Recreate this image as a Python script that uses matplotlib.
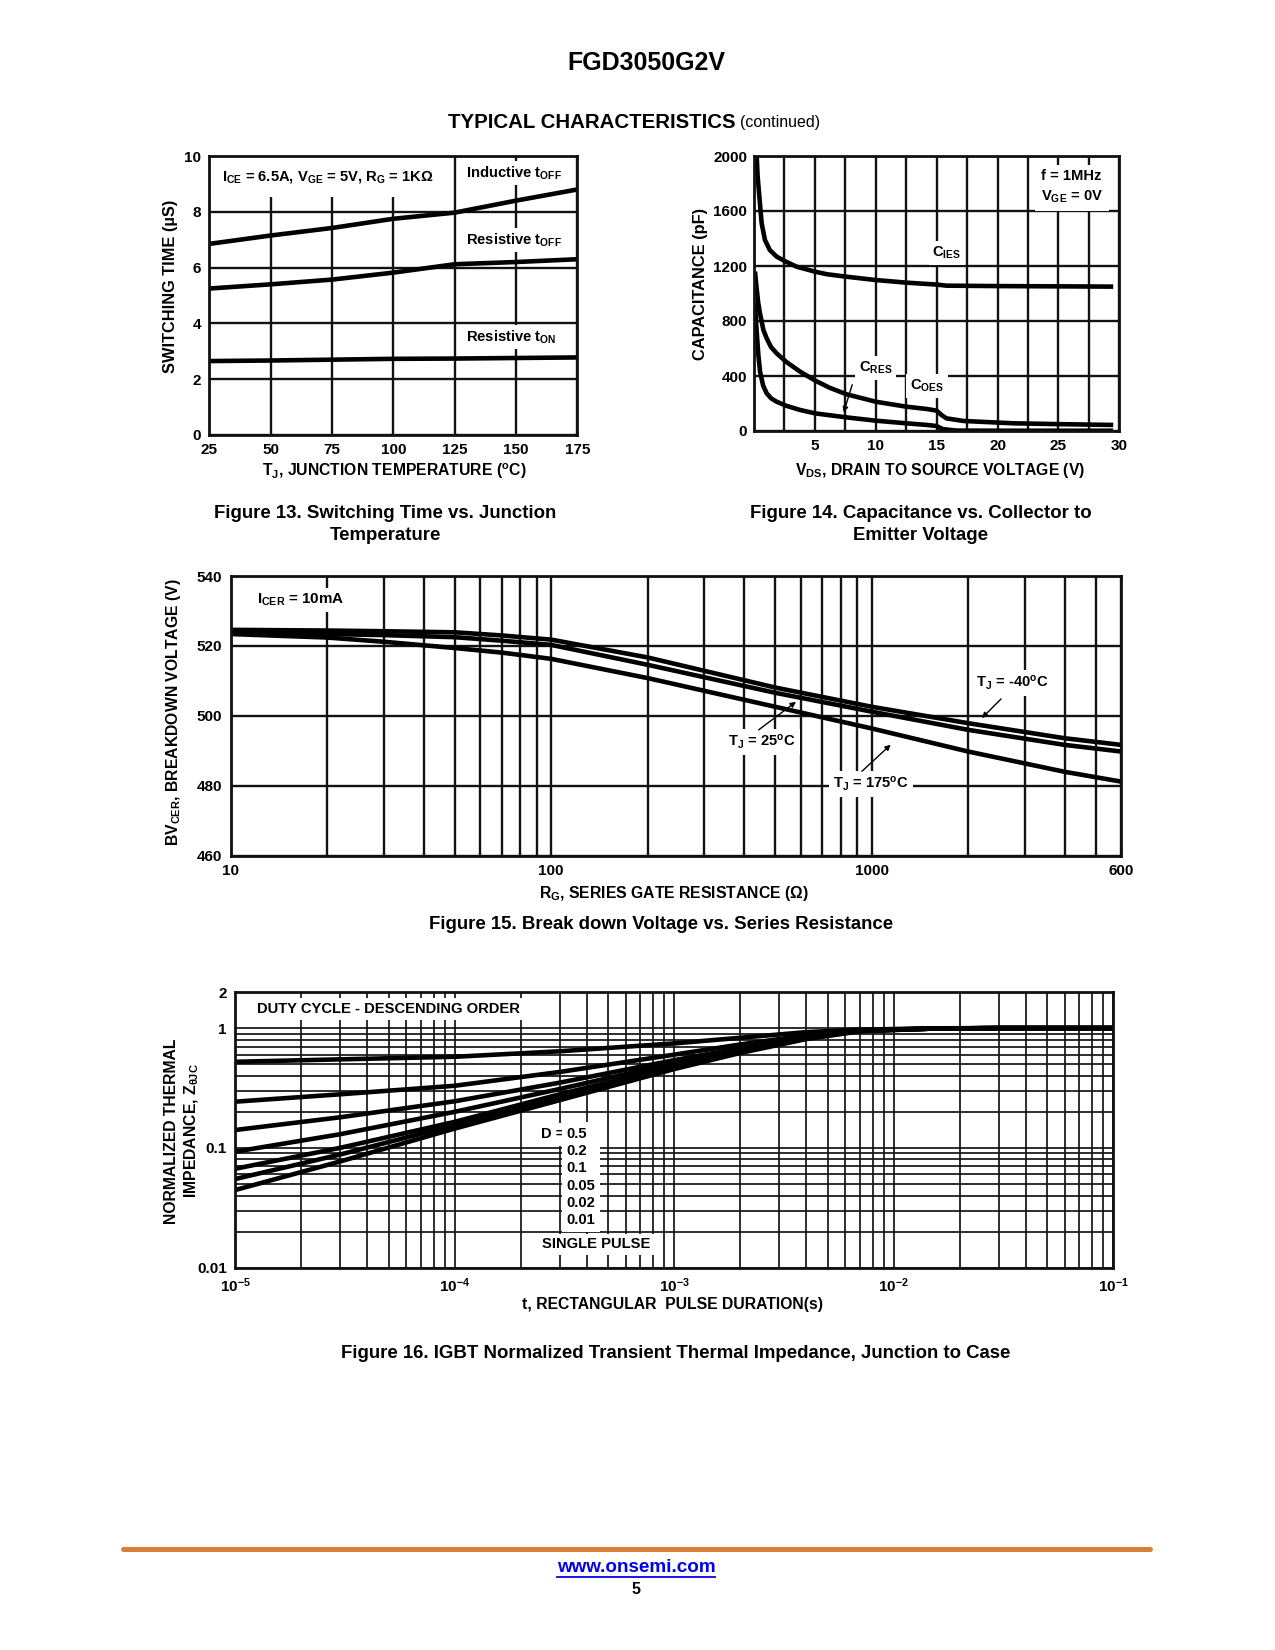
import numpy as np
import matplotlib
matplotlib.use('Agg')
import matplotlib.pyplot as plt
from matplotlib.ticker import FixedLocator, FixedFormatter, MultipleLocator, LogLocator, NullFormatter
from matplotlib.lines import Line2D

plt.rcParams['font.family'] = ['Liberation Sans', 'DejaVu Sans']
plt.rcParams['font.weight'] = 'bold'
plt.rcParams['mathtext.fontset'] = 'custom'
plt.rcParams['mathtext.rm'] = 'Liberation Sans:bold'
plt.rcParams['mathtext.bf'] = 'Liberation Sans:bold'
plt.rcParams['mathtext.it'] = 'Liberation Sans:bold'
plt.rcParams['mathtext.default'] = 'rm'

# ---------------- Figure 13 data ----------------
tj_temp = [25, 50, 75, 100, 125, 150, 175]
ind_toff = [6.85, 7.15, 7.42, 7.75, 7.97, 8.40, 8.80]
res_toff = [5.25, 5.40, 5.57, 5.82, 6.12, 6.20, 6.30]
res_ton = [2.65, 2.67, 2.70, 2.73, 2.74, 2.76, 2.78]
f13_xticks = [25, 50, 75, 100, 125, 150, 175]
f13_yticks = [0, 2, 4, 6, 8, 10]

# ---------------- Figure 14 data ----------------
cies_v = [0.22, 0.3, 0.44, 0.63, 0.9, 1.3, 1.86, 2.63, 3.5, 5.0, 6.0, 7.6, 10, 12.5, 15, 15.8, 20, 25, 29.5]
cies_c = [2000, 1850, 1704, 1510, 1389, 1316, 1268, 1231, 1195, 1159, 1140, 1122, 1098, 1079, 1065, 1057, 1054, 1052, 1050]
coes_v = [0.08, 0.2, 0.35, 0.49, 0.77, 1.04, 1.4, 1.86, 2.63, 3.78, 5.04, 6.2, 7.6, 10, 12.5, 14.2, 15.0, 15.4, 15.8, 17.2, 21.3, 25, 29.5]
coes_c = [1160, 1050, 930, 856, 735, 674, 610, 565, 504, 432, 366, 315, 267, 213, 177, 160, 148, 116, 92, 73, 56, 50, 44]
cres_v = [0.08, 0.2, 0.35, 0.5, 0.75, 1.04, 1.4, 1.86, 2.63, 3.78, 5.04, 7.6, 10, 12.5, 14.2, 15.0, 15.5, 16.6, 20, 29.5]
cres_c = [930, 750, 560, 430, 330, 274, 238, 213, 184, 153, 128, 99, 75, 56, 44, 36, 14, 3, 2, 2]
f14_xticks = [5, 10, 15, 20, 25, 30]
f14_yticks = [0, 400, 800, 1200, 1600, 2000]

# ---------------- Figure 15 data ----------------
rg_ohm = [10, 20, 30, 50, 70, 100, 200, 500, 1000, 2000, 4000, 6000]
bv_m40 = [524.6, 524.4, 524.2, 523.9, 523.0, 521.8, 516.7, 508.1, 502.6, 497.9, 493.6, 491.7]
bv_25 = [524.0, 523.4, 523.1, 522.5, 521.5, 520.3, 514.6, 506.6, 501.2, 496.0, 491.7, 489.8]
bv_175 = [523.4, 522.4, 521.2, 519.4, 518.1, 516.3, 510.8, 502.6, 496.4, 489.8, 484.0, 481.2]
f15_xticks = [10, 100, 1000, 6000]
f15_xlabels = ['10', '100', '1000', '600']
f15_yticks = [460, 480, 500, 520, 540]

# ---------------- Figure 16 data ----------------
pulse_t = [1e-5, 3e-5, 1e-4, 3e-4, 1e-3, 2e-3, 4e-3, 7e-3, 1.5e-2, 3e-2, 1e-1]
z_d050 = [0.523, 0.548, 0.576, 0.640, 0.745, 0.830, 0.925, 0.970, 0.995, 1.0, 1.0]
z_d020 = [0.243, 0.280, 0.330, 0.430, 0.600, 0.730, 0.870, 0.960, 0.990, 1.0, 1.0]
z_d010 = [0.141, 0.180, 0.245, 0.350, 0.540, 0.680, 0.850, 0.955, 0.990, 1.0, 1.0]
z_d005 = [0.093, 0.130, 0.200, 0.310, 0.510, 0.660, 0.840, 0.950, 0.990, 1.0, 1.0]
z_d002 = [0.067, 0.100, 0.165, 0.280, 0.480, 0.640, 0.830, 0.950, 0.990, 1.0, 1.0]
z_d001 = [0.055, 0.088, 0.155, 0.265, 0.470, 0.630, 0.820, 0.945, 0.990, 1.0, 1.0]
z_single = [0.0445, 0.077, 0.145, 0.250, 0.455, 0.620, 0.810, 0.940, 0.990, 1.0, 1.0]
duty_labels = ['0.5', '0.2', '0.1', '0.05', '0.02', '0.01']
f16_xticks = [1e-5, 1e-4, 1e-3, 1e-2, 1e-1]
f16_xlabels = ['10$^{-5}$', '10$^{-4}$', '10$^{-3}$', '10$^{-2}$', '10$^{-1}$']
f16_yticks = [0.01, 0.1, 1, 2]
f16_ylabels = ['0.01', '0.1', '1', '2']

W, H = 1275, 1650
fig = plt.figure(figsize=(W / 100, H / 100), dpi=100)


def px_axes(l, t, r, b):
    return fig.add_axes([l / W, 1 - b / H, (r - l) / W, (b - t) / H])


def ftext(x, y, s, **kw):
    kw.setdefault('ha', 'center')
    kw.setdefault('va', 'center')
    return fig.text(x / W, 1 - y / H, s, **kw)


GRID = dict(color='#121212', linewidth=1.7)
CURVE = dict(color='black', linewidth=3.3, solid_capstyle='butt', zorder=2.4)
BOX = dict(boxstyle='square,pad=0.25', fc='white', ec='none')
TICKFS = 11
LABFS = 11.3
ANNFS = 10.6


def style(ax, lw=2.0):
    for s in ax.spines.values():
        s.set_linewidth(lw)
        s.set_color('#111111')
        s.set_zorder(2.5)
    ax.tick_params(which='both', length=0, labelsize=TICKFS)
    ax.set_axisbelow(True)


# ================= Figure 13 =================
ax13 = px_axes(209.3, 156, 577.3, 435)
ax13.plot(tj_temp, ind_toff, **CURVE)
ax13.plot(tj_temp, res_toff, **CURVE)
ax13.plot(tj_temp, res_ton, **CURVE)
ax13.set_xlim(25, 175)
ax13.set_ylim(0, 10)
ax13.set_xticks(f13_xticks)
ax13.set_yticks(f13_yticks)
ax13.grid(True, **GRID)
style(ax13)
ax13.tick_params(axis='x', pad=6)
ax13.tick_params(axis='y', pad=6)
ax13.text(30.2, 9.25, 'I$_{CE}$ = 6.5A, V$_{GE}$ = 5V, R$_{G}$ = 1KΩ', fontsize=ANNFS,
          ha='left', va='center', zorder=2.2,
          bbox=dict(boxstyle='square,pad=0.8', fc='white', ec='none'))
ax13.text(129.6, 9.39, 'Inductive t$_{OFF}$', fontsize=ANNFS, ha='left', va='center', zorder=2.2, bbox=BOX)
ax13.text(129.6, 6.99, 'Resistive t$_{OFF}$', fontsize=ANNFS, ha='left', va='center', zorder=2.2, bbox=BOX)
ax13.text(129.6, 3.51, 'Resistive t$_{ON}$', fontsize=ANNFS, ha='left', va='center', zorder=2.2, bbox=BOX)
ftext(394, 471.5, 'T$_{J}$, JUNCTION TEMPERATURE ($^{o}$C)', fontsize=LABFS)
ftext(170, 286, 'SWITCHING TIME (µS)', fontsize=11.8, rotation=90)

# ================= Figure 14 =================
ax14 = px_axes(754, 156, 1119.3, 431)
ax14.plot(cies_v, cies_c, **CURVE)
ax14.plot(coes_v, coes_c, **CURVE)
ax14.plot(cres_v, cres_c, **CURVE)
ax14.set_xlim(0, 30)
ax14.set_ylim(0, 2000)
ax14.set_xticks(f14_xticks)
ax14.xaxis.set_minor_locator(MultipleLocator(2.5))
ax14.set_yticks(f14_yticks)
ax14.grid(True, which='both', **GRID)
style(ax14)
ax14.tick_params(axis='x', pad=6)
ax14.tick_params(axis='y', pad=5)
ax14.text(23.6, 1775, 'f = 1MHz\nV$_{GE}$ = 0V', fontsize=ANNFS, ha='left', va='center',
          linespacing=1.45, zorder=2.2, bbox=dict(boxstyle='square,pad=0.4', fc='white', ec='none'))
ax14.text(15.85, 1295, 'C$_{IES}$', fontsize=ANNFS, ha='center', va='center', zorder=2.2, bbox=BOX)
ax14.text(10.0, 458, 'C$_{RES}$', fontsize=ANNFS, ha='center', va='center', zorder=2.2, bbox=BOX)
ax14.text(14.2, 327, 'C$_{OES}$', fontsize=ANNFS, ha='center', va='center', zorder=2.2, bbox=BOX)
ax14.annotate('', xy=(7.3, 116), xytext=(8.13, 356),
              arrowprops=dict(arrowstyle='-|>', color='black', lw=1.0, mutation_scale=8), zorder=2.6)
ftext(940, 471, 'V$_{DS}$, DRAIN TO SOURCE VOLTAGE (V)', fontsize=LABFS)
ftext(700.5, 284, 'CAPACITANCE (pF)', fontsize=11.8, rotation=90)

# ================= Figure 15 =================
ax15 = px_axes(230.7, 576, 1121, 855.7)
ax15.plot(rg_ohm, bv_m40, **CURVE)
ax15.plot(rg_ohm, bv_25, **CURVE)
ax15.plot(rg_ohm, bv_175, **CURVE)
ax15.set_xscale('log')
ax15.set_xlim(10, 6000)
ax15.set_ylim(460, 540)
ax15.xaxis.set_major_locator(FixedLocator(f15_xticks))
ax15.xaxis.set_major_formatter(FixedFormatter(f15_xlabels))
ax15.xaxis.set_minor_locator(LogLocator(base=10, subs=np.arange(2, 10), numticks=100))
ax15.xaxis.set_minor_formatter(NullFormatter())
ax15.set_yticks(f15_yticks)
ax15.grid(True, which='both', **GRID)
style(ax15)
ax15.tick_params(axis='x', pad=6)
ax15.tick_params(axis='y', pad=6)
ax15.text(12.1, 533.1, 'I$_{CER}$ = 10mA', fontsize=10.9, ha='left', va='center', zorder=2.2, bbox=BOX)
arrow = dict(arrowstyle='-|>', color='black', lw=1.0, mutation_scale=8)
ax15.text(2740, 509.4, 'T$_{J}$ = -40$^{o}$C', fontsize=ANNFS, ha='center', va='center', zorder=2.2, bbox=BOX)
ax15.annotate('', xy=(2178, 498.8), xytext=(2570, 505.4), arrowprops=arrow, zorder=2.6)
ax15.text(455, 492.5, 'T$_{J}$ = 25$^{o}$C', fontsize=ANNFS, ha='center', va='center', zorder=2.2, bbox=BOX)
ax15.annotate('', xy=(590, 504.5), xytext=(437, 495.5), arrowprops=arrow, zorder=2.6)
ax15.text(995, 480.5, 'T$_{J}$ = 175$^{o}$C', fontsize=ANNFS, ha='center', va='center', zorder=2.2, bbox=BOX)
ax15.annotate('', xy=(1164, 492.3), xytext=(919, 483.6), arrowprops=arrow, zorder=2.6)
ftext(674, 893, 'R$_{G}$, SERIES GATE RESISTANCE (Ω)', fontsize=LABFS)
ftext(173.5, 712, 'BV$_{CER}$, BREAKDOWN VOLTAGE (V)', fontsize=LABFS, rotation=90)

# ================= Figure 16 =================
ax16 = px_axes(235.3, 992, 1113.3, 1267.7)
for z in (z_d050, z_d020, z_d010, z_d005, z_d002, z_d001, z_single):
    ax16.plot(pulse_t, z, **CURVE)
ax16.set_xscale('log')
ax16.set_yscale('log')
ax16.set_xlim(1e-5, 1e-1)
ax16.set_ylim(0.01, 2)
ax16.xaxis.set_major_locator(FixedLocator(f16_xticks))
ax16.xaxis.set_major_formatter(FixedFormatter(f16_xlabels))
ax16.xaxis.set_minor_locator(LogLocator(base=10, subs=np.arange(2, 10), numticks=100))
ax16.xaxis.set_minor_formatter(NullFormatter())
ax16.yaxis.set_major_locator(FixedLocator(f16_yticks))
ax16.yaxis.set_major_formatter(FixedFormatter(f16_ylabels))
ax16.yaxis.set_minor_locator(LogLocator(base=10, subs=np.arange(2, 10), numticks=100))
ax16.yaxis.set_minor_formatter(NullFormatter())
ax16.grid(True, which='both', color='#151515', linewidth=1.25)
style(ax16)
ax16.tick_params(axis='x', pad=6)
ax16.tick_params(axis='y', pad=6)
ax16.text(1.26e-5, 1.44, 'DUTY CYCLE - DESCENDING ORDER', fontsize=ANNFS, ha='left', va='center',
          zorder=2.2, bbox=BOX)
ax16.text(3.15e-4, 0.130, 'D =', fontsize=ANNFS, ha='right', va='center', zorder=2.15,
          bbox=dict(boxstyle='square,pad=0.3', fc='white', ec='none'))
ax16.text(3.24e-4, 0.057, '\n'.join(duty_labels), fontsize=ANNFS, ha='left', va='center',
          multialignment='left', linespacing=1.30, zorder=2.2,
          bbox=dict(boxstyle='square,pad=0.3', fc='white', ec='none'))
ax16.text(2.49e-4, 0.0157, 'SINGLE PULSE', fontsize=ANNFS, ha='left', va='center', zorder=2.2, bbox=BOX)
ftext(673, 1304, 't, RECTANGULAR  PULSE DURATION(s)', fontsize=LABFS)
ftext(182.5, 1131, 'NORMALIZED THERMAL\nIMPEDANCE, Z$_{θJC}$', fontsize=LABFS, rotation=90,
      multialignment='center', linespacing=1.3)

# ================= Page texts =================
ftext(646, 63, 'FGD3050G2V', fontsize=18)
t1 = ftext(591.7, 122, 'TYPICAL CHARACTERISTICS', fontsize=14.7)
ftext(385.5, 514, 'Figure 13. Switching Time vs. Junction', fontsize=13.4)
ftext(385.5, 536, 'Temperature', fontsize=13.4)
ftext(920.5, 514, 'Figure 14. Capacitance vs. Collector to', fontsize=13.4)
ftext(920.5, 536, 'Emitter Voltage', fontsize=13.4)
ftext(661, 924, 'Figure 15. Break down Voltage vs. Series Resistance', fontsize=13.4)
ftext(675.5, 1353, 'Figure 16. IGBT Normalized Transient Thermal Impedance, Junction to Case', fontsize=13.4)

fig.add_artist(Line2D([123 / W, 1150 / W], [1 - 1549 / H] * 2, color='#D8803A', lw=3.6,
                      solid_capstyle='round'))
url = ftext(636, 1567, 'www.onsemi.com', fontsize=13.6, color='#0000EE')
ftext(636, 1589, '5', fontsize=11.5)

fig.canvas.draw()
r = fig.canvas.get_renderer()
bb = t1.get_window_extent(r)
fig.text((bb.x1 + 5) / W, 1 - 122 / H, '(continued)', fontsize=11.5, fontweight='normal',
         ha='left', va='center')
ub = url.get_window_extent(r)
fig.add_artist(Line2D([ub.x0 / W, ub.x1 / W], [(ub.y0 - 1) / H] * 2, color='#0000EE', lw=1.3))

fig.savefig('out.png', dpi=100, facecolor='white')
